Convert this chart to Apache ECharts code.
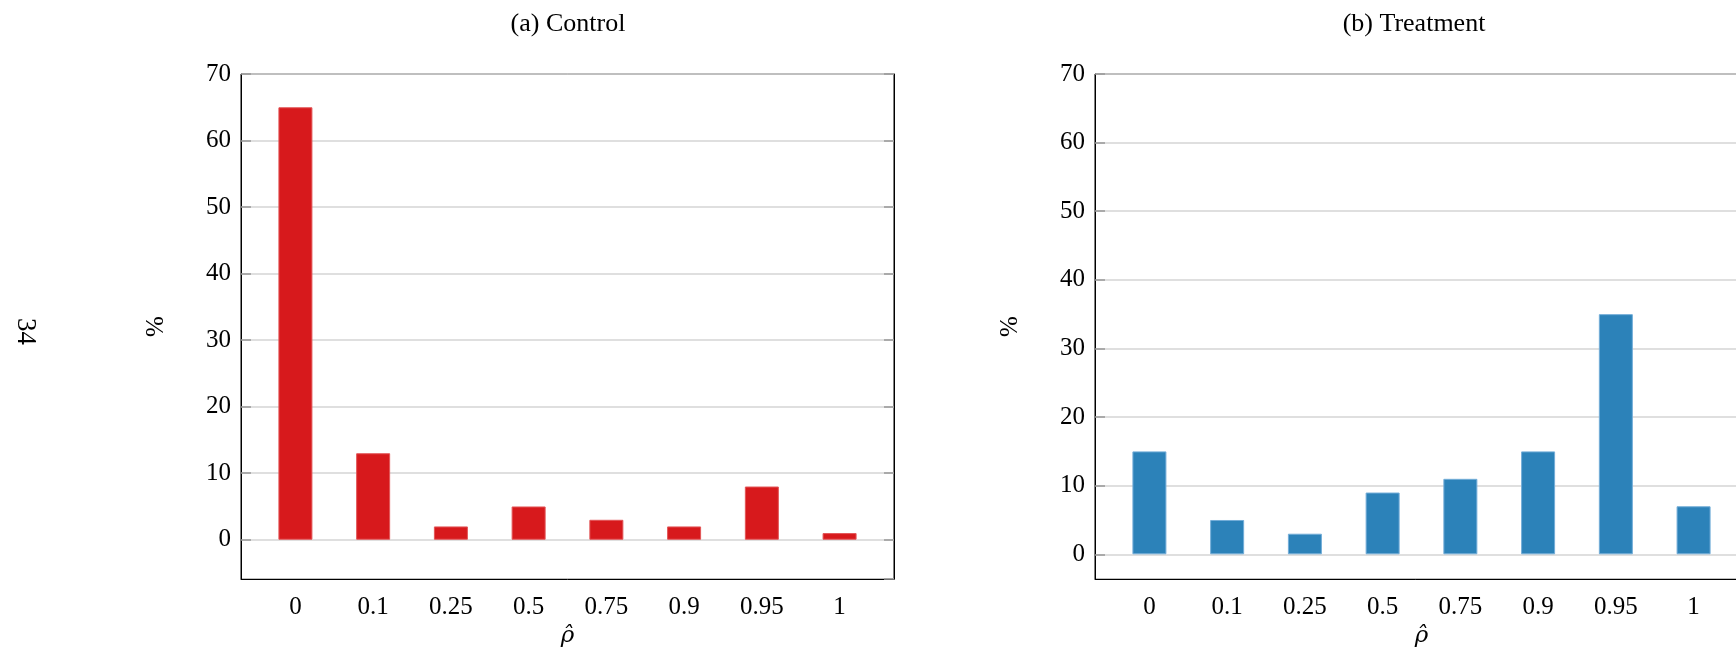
<!DOCTYPE html>
<html>
<head>
<meta charset="utf-8">
<script src="https://cdn.jsdelivr.net/npm/echarts@6/dist/echarts.min.js"></script>
<style>
html,body{margin:0;padding:0;background:#fff;}
#c{width:1736px;height:656px;}
</style>
</head>
<body>
<div id="c"></div>
<script>
// ---- data ----
const categories = ['0', '0.1', '0.25', '0.5', '0.75', '0.9', '0.95', '1'];
const controlValues = [65, 13, 2, 5, 3, 2, 8, 1];
const treatmentValues = [15, 5, 3, 9, 11, 15, 35, 7];
const panelTitles = ['(a) Control', '(b) Treatment'];
const yTickMax = 70;
const controlYMin = -5.9;
const treatmentYMin = -3.6;

const FONT = 'Liberation Serif';
const chart = echarts.init(document.getElementById('c'), null, {renderer: 'canvas'});

function xAxisFor(gridIndex) {
  return {
    type: 'value', gridIndex: gridIndex,
    min: -0.7, max: categories.length - 1 + 0.7,
    minInterval: 1, maxInterval: 1,
    name: 'ρ\u0302', nameLocation: 'middle', nameGap: 42,
    nameTextStyle: {fontFamily: 'DejaVu Serif', fontSize: 23, fontStyle: 'italic', color: '#000'},
    axisLine: {show: true, onZero: false, lineStyle: {color: '#000', width: 1}},
    axisTick: {show: false},
    splitLine: {show: false},
    axisLabel: {
      fontFamily: FONT, fontSize: 25, color: '#000', margin: 16,
      showMinLabel: true, showMaxLabel: true,
      formatter: function (v) {
        const r = Math.round(v);
        return (Math.abs(v - r) < 1e-6 && r >= 0 && r < categories.length) ? categories[r] : '';
      }
    }
  };
}

function yAxisFor(gridIndex, ymin, right) {
  return {
    type: 'value', gridIndex: gridIndex,
    position: right ? 'right' : 'left',
    min: ymin, max: yTickMax,
    minInterval: 10, maxInterval: 10, splitNumber: 7,
    name: right ? '' : '%', nameLocation: 'middle', nameGap: 72, nameRotate: 90,
    nameTextStyle: {fontFamily: FONT, fontSize: 25, color: '#000'},
    axisLine: {show: true, onZero: false, lineStyle: {color: '#000', width: 1}},
    axisTick: {show: true, inside: true, length: 10, lineStyle: {color: '#999', width: 1.5}},
    splitLine: {show: !right, lineStyle: {color: '#d4d4d4', width: 1.5}},
    axisLabel: {
      show: !right,
      fontFamily: FONT, fontSize: 25, color: '#000', margin: 10,
      showMinLabel: false,
      formatter: function (v) { return v < 0 ? '' : String(v); }
    }
  };
}

const option = {
  backgroundColor: '#fff',
  animation: false,
  title: [
    {text: panelTitles[0], left: 563, top: 6, textAlign: 'center',
     textStyle: {fontFamily: FONT, fontSize: 26, fontWeight: 'normal', color: '#000'}},
    {text: panelTitles[1], left: 1409, top: 6, textAlign: 'center',
     textStyle: {fontFamily: FONT, fontSize: 26, fontWeight: 'normal', color: '#000'}}
  ],
  grid: [
    {left: 241, top: 74, width: 653, height: 505, containLabel: false, outerBoundsMode: 'none',
     show: true, borderColor: '#000', borderWidth: 1, backgroundColor: 'transparent'},
    {left: 1095, top: 74, width: 653, height: 505, containLabel: false, outerBoundsMode: 'none',
     show: true, borderColor: '#000', borderWidth: 1, backgroundColor: 'transparent'}
  ],
  xAxis: [xAxisFor(0), xAxisFor(1)],
  yAxis: [
    yAxisFor(0, controlYMin, false),
    yAxisFor(1, treatmentYMin, false),
    yAxisFor(0, controlYMin, true),
    yAxisFor(1, treatmentYMin, true)
  ],
  graphic: [
    {type: 'text', left: 12, top: 318, rotation: -Math.PI / 2, originX: 0, originY: 0,
     style: {text: '34', fontFamily: FONT, fontSize: 27, fill: '#000'}}
  ],
  series: [
    {type: 'bar', xAxisIndex: 0, yAxisIndex: 0, barWidth: 34,
     data: controlValues.map((v, i) => [i, v]),
     itemStyle: {color: '#d7191c', borderColor: '#e25557', borderWidth: 1}},
    {type: 'bar', xAxisIndex: 1, yAxisIndex: 1, barWidth: 34,
     data: treatmentValues.map((v, i) => [i, v]),
     itemStyle: {color: '#2c82b9', borderColor: '#73add8', borderWidth: 1}}
  ]
};
chart.setOption(option);
</script>
</body>
</html>
